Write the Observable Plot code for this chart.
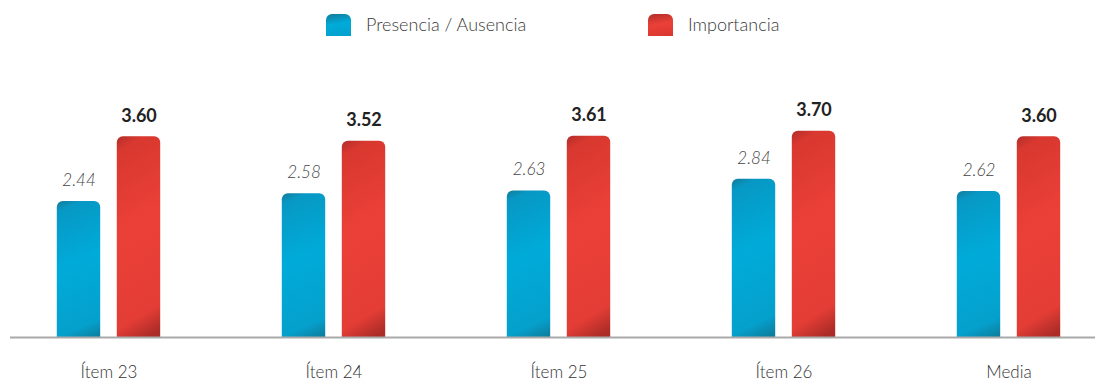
<!DOCTYPE html>
<html><head><meta charset="utf-8">
<script src="https://cdn.jsdelivr.net/npm/d3@7"></script>
<script src="https://cdn.jsdelivr.net/npm/@observablehq/plot@0.6"></script>
<style>
body{margin:0;background:#fff;font-family:Lato,"Open Sans",sans-serif;}
#wrap{position:relative;width:1095px;height:383px;}
#legend{position:relative;height:40px;}
.sw{position:absolute;top:14px;width:25px;height:22px;border-radius:6px 6px 0 0;}
.lt{position:absolute;top:13px;font-size:18px;color:#3a3a3a;font-weight:300;}
</style></head>
<body>
<svg width="0" height="0" style="position:absolute">
<defs>
<linearGradient id="gBlue" x1="0" y1="0" x2="0.12" y2="1">
<stop offset="0" stop-color="#137a98"/>
<stop offset="0.07" stop-color="#0798c4"/>
<stop offset="0.45" stop-color="#00abd9"/>
<stop offset="0.88" stop-color="#05a0cc"/>
<stop offset="1" stop-color="#0d7c9b"/>
</linearGradient>
<linearGradient id="gRed" x1="0" y1="0" x2="0.12" y2="1">
<stop offset="0" stop-color="#b02e2a"/>
<stop offset="0.07" stop-color="#d8382f"/>
<stop offset="0.45" stop-color="#eb4038"/>
<stop offset="0.88" stop-color="#e33d35"/>
<stop offset="1" stop-color="#ab2b27"/>
</linearGradient>
</defs>
</svg>
<div id="wrap">
<div id="legend"></div>
<div id="chart"></div>
</div>
<script>
const categories = ["Ítem 23", "Ítem 24", "Ítem 25", "Ítem 26", "Media"];
const series = ["Presencia / Ausencia", "Importancia"];
const presencia = [2.44, 2.58, 2.63, 2.84, 2.62];
const importancia = [3.60, 3.52, 3.61, 3.70, 3.60];
const labelsP = ["2.44", "2.58", "2.63", "2.84", "2.62"];
const labelsI = ["3.60", "3.52", "3.61", "3.70", "3.60"];

const fills = {"Presencia / Ausencia": "url(#gBlue)", "Importancia": "url(#gRed)"};
const swatchFills = {"Presencia / Ausencia": "linear-gradient(170deg,#137a98,#00abd9 45%,#05a0cc)", "Importancia": "linear-gradient(170deg,#b02e2a,#eb4038 45%,#d8382f)"};

// legend
const leg = document.getElementById("legend");
const legPos = [[326, 366], [648, 688]];
series.forEach((s, i) => {
  const sw = document.createElement("div");
  sw.className = "sw"; sw.style.left = legPos[i][0] + "px"; sw.style.background = swatchFills[s];
  const t = document.createElement("div");
  t.className = "lt"; t.style.left = legPos[i][1] + "px"; t.textContent = s;
  leg.appendChild(sw); leg.appendChild(t);
});

const dataP = categories.map((c, i) => ({cat: c, value: presencia[i], label: labelsP[i]}));
const dataI = categories.map((c, i) => ({cat: c, value: importancia[i], label: labelsI[i]}));

const step = 225.6, first = 107;
const plot = Plot.plot({
  width: 1095,
  height: 343,
  marginTop: 74,
  marginBottom: 46,
  marginLeft: 10,
  marginRight: 0,
  style: {fontFamily: "Lato, 'Open Sans', sans-serif", background: "transparent", overflow: "visible"},
  x: {type: "band", domain: categories, range: [first - step / 2, first + step * 4.5], padding: 0, label: null},
  y: {domain: [0, 4], axis: null},
  marks: [
    Plot.barY(dataP, {x: "cat", y1: -0.3, y2: "value", fill: fills[series[0]], rx: 6, clip: true,
      insetLeft: step / 2 - 52, insetRight: step / 2 + 8}),
    Plot.barY(dataI, {x: "cat", y1: -0.3, y2: "value", fill: fills[series[1]], rx: 6, clip: true,
      insetLeft: step / 2 + 8, insetRight: step / 2 - 52}),
    Plot.text(dataP, {x: "cat", y: "value", text: "label", dx: -30, dy: -21, fontSize: 17, fill: "#444",
      fontStyle: "italic", fontWeight: 300}),
    Plot.text(dataI, {x: "cat", y: "value", text: "label", dx: 30, dy: -21, fontSize: 18, fill: "#222",
      fontWeight: "bold"}),
    Plot.ruleY([0], {stroke: "#a9a9a9", strokeWidth: 2}),
    Plot.axisX({tickSize: 0, tickPadding: 28, fontSize: 17, fill: "#333", fontWeight: 300, label: null})
  ]
});
document.getElementById("chart").appendChild(plot);
</script>
</body></html>
